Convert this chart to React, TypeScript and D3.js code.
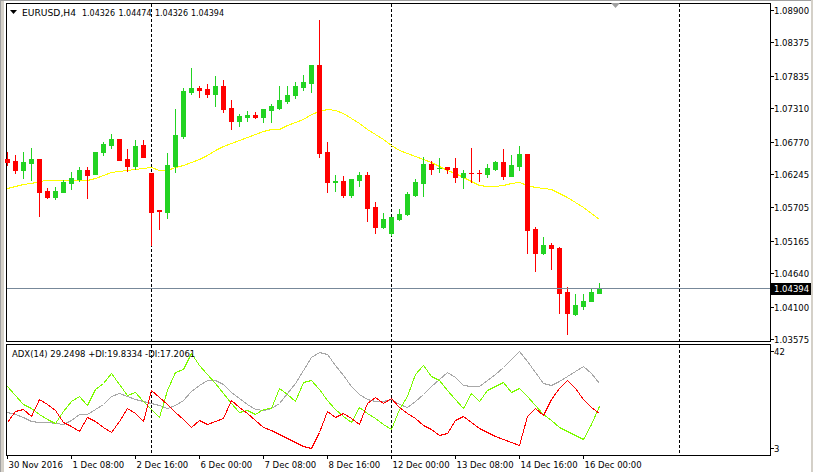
import React from "react";
import * as d3 from "d3";

// ---------- data (EURUSD H4) ----------
const open = [1.06488,1.06461,1.06310,1.06428,1.06488,1.05970,1.05873,1.05959,1.06100,1.06165,
1.06310,1.06245,1.06602,1.06715,1.06812,1.06488,1.06375,1.06715,1.06262,1.05658,
1.05635,1.06375,1.06861,1.07573,1.07637,1.07621,1.07545,1.07670,1.07314,1.07108,
1.07173,1.07200,1.07173,1.07286,1.07314,1.07427,1.07524,1.07654,1.07723,1.08010,
1.06602,1.06121,1.06132,1.05906,1.06148,1.06229,1.05711,1.05383,1.05295,1.05522,
1.05593,1.05906,1.06105,1.06407,1.06335,1.06359,1.06343,1.06202,1.06262,1.06262,
1.06250,1.06326,1.06440,1.06218,1.06380,1.06569,1.05355,1.04959,1.05096,1.05048,
1.04340,1.03979,1.04109,1.04185,1.04326];
const high = [1.06602,1.06553,1.06602,1.06666,1.06488,1.06019,1.06035,1.06148,1.06278,1.06359,
1.06359,1.06602,1.06763,1.06893,1.06812,1.06650,1.06796,1.06796,1.06262,1.05663,
1.06581,1.07298,1.07637,1.07961,1.07670,1.07702,1.07832,1.07767,1.07443,1.07217,
1.07270,1.07249,1.07298,1.07379,1.07670,1.07670,1.07735,1.07848,1.08010,1.08738,
1.06763,1.06229,1.06218,1.06165,1.06283,1.06283,1.05792,1.05609,1.05549,1.05674,
1.05954,1.06165,1.06521,1.06456,1.06504,1.06359,1.06504,1.06310,1.06666,1.06310,
1.06407,1.06456,1.06650,1.06553,1.06699,1.06569,1.05392,1.05231,1.05129,1.05069,
1.04421,1.04303,1.04303,1.04384,1.04474];
const low = [1.06391,1.06267,1.06186,1.06148,1.05566,1.05857,1.05841,1.05954,1.06003,1.06132,
1.05857,1.06245,1.06553,1.06666,1.06477,1.06294,1.06326,1.06521,1.05096,1.05355,
1.05538,1.06283,1.06833,1.07540,1.07497,1.07497,1.07351,1.07254,1.06979,1.07027,
1.07108,1.07157,1.07092,1.07092,1.07298,1.07395,1.07476,1.07605,1.07578,1.06526,
1.05959,1.05970,1.05878,1.05878,1.06056,1.05485,1.05295,1.05367,1.05258,1.05501,
1.05577,1.05889,1.05889,1.06245,1.06278,1.06267,1.06121,1.06024,1.06121,1.06137,
1.06202,1.06315,1.06169,1.06213,1.06315,1.04959,1.04680,1.04956,1.04716,1.03991,
1.03651,1.03963,1.04055,1.04185,1.04326];
const close = [1.06440,1.06310,1.06440,1.06488,1.05959,1.05873,1.05970,1.06116,1.06181,1.06310,
1.06229,1.06602,1.06731,1.06812,1.06477,1.06375,1.06699,1.06521,1.05635,1.05647,
1.06391,1.06877,1.07589,1.07637,1.07605,1.07545,1.07670,1.07302,1.07108,1.07184,
1.07200,1.07173,1.07298,1.07346,1.07443,1.07524,1.07670,1.07735,1.08010,1.06590,
1.06121,1.06132,1.05906,1.06165,1.06229,1.05700,1.05392,1.05512,1.05544,1.05598,
1.05922,1.06111,1.06407,1.06331,1.06343,1.06326,1.06202,1.06262,1.06257,1.06257,
1.06343,1.06440,1.06218,1.06391,1.06569,1.05347,1.04959,1.05096,1.05040,1.04314,
1.03991,1.04125,1.04190,1.04340,1.04394];
const ma = [1.06019,1.06051,1.06076,1.06108,1.06140,1.06144,1.06144,1.06144,1.06144,1.06144,
1.06156,1.06181,1.06229,1.06270,1.06294,1.06310,1.06334,1.06347,1.06359,1.06318,
1.06318,1.06351,1.06391,1.06432,1.06496,1.06553,1.06634,1.06704,1.06755,1.06796,
1.06852,1.06901,1.06941,1.06966,1.06982,1.07039,1.07095,1.07136,1.07209,1.07265,
1.07298,1.07281,1.07228,1.07160,1.07071,1.06982,1.06893,1.06804,1.06723,1.06642,
1.06581,1.06537,1.06496,1.06432,1.06367,1.06310,1.06262,1.06205,1.06140,1.06067,
1.06051,1.06051,1.06067,1.06092,1.06116,1.06067,1.06035,1.06014,1.05995,1.05938,
1.05876,1.05800,1.05716,1.05622,1.05517];
const adx = [17.59,16.67,15.46,13.85,13.57,13.57,13.17,12.45,14.26,16.87,
16.67,18.68,20.69,23.91,25.11,23.91,22.70,21.89,20.97,20.09,
19.08,20.29,22.50,25.92,28.53,30.34,30.54,28.73,25.71,23.10,
20.89,18.48,18.28,18.96,21.09,25.31,29.13,34.36,39.39,41.48,
40.79,36.57,32.35,27.93,24.71,22.70,21.89,21.89,22.90,20.49,
19.68,21.89,24.71,27.93,30.94,33.44,31.55,28.13,28.05,28.05,
30.34,32.95,35.57,38.98,42.20,37.98,33.56,29.13,28.13,29.74,
31.75,33.76,35.97,33.35,29.2498];
const plusDI = [27.93,24.11,20.49,19.08,16.67,14.86,13.17,17.87,21.89,23.91,
20.29,26.92,29.13,33.15,28.93,24.31,25.39,21.89,18.48,15.46,
26.52,33.44,34.76,41.0,36.37,32.95,29.13,25.11,21.29,17.67,
18.36,16.47,18.88,18.96,27.12,24.91,21.89,29.53,30.54,26.72,
22.30,18.68,16.06,13.65,19.68,17.27,15.06,12.65,10.44,18.68,
23.91,32.95,36.57,31.95,30.34,26.32,22.70,19.08,25.11,21.89,
26.32,27.93,29.66,25.51,27.32,23.91,20.29,16.67,14.26,11.44,
9.83,8.22,6.62,12.65,19.8334];
const minusDI = [13.57,17.99,18.56,16.06,22.90,20.69,18.28,13.57,11.84,10.03,
15.66,13.85,11.64,9.63,14.05,19.08,17.07,14.05,26.12,23.50,
20.89,17.67,14.46,11.44,14.26,12.45,13.85,15.06,22.10,19.48,
17.07,14.26,11.64,10.23,8.75,7.22,5.41,4.00,3.00,9.60,
17.87,15.34,17.07,15.06,12.85,21.09,23.70,21.09,23.30,19.68,
17.07,15.06,12.24,10.44,8.42,8.83,14.26,15.86,13.45,11.04,
9.63,8.02,6.62,5.41,4.20,15.86,18.96,16.27,22.70,27.32,
30.54,27.12,22.90,19.48,17.2061];

const timeLabels = ["30 Nov 2016","1 Dec 08:00","2 Dec 16:00","6 Dec 00:00","7 Dec 08:00","8 Dec 16:00","12 Dec 00:00","13 Dec 08:00","14 Dec 16:00","16 Dec 00:00"];
const timeLabelBars = [0,8,16,24,32,40,48,56,64,72];
const separatorBars = [18,48,84];
const priceTicks = ["1.08900","1.08375","1.07835","1.07310","1.06770","1.06245","1.05705","1.05165","1.04640","1.04100","1.03575"];
const indTicks = ["42","3"];
const symbolInfo = "EURUSD,H4";
const headerValues = ["1.04326","1.04474","1.04326","1.04394"];
const adxLabel = "ADX(14) 29.2498 +DI:19.8334 -DI:17.2061";
const lastBid = 1.04394;

// ---------- layout ----------
const FONT = "DejaVu Sans";
const FS = 8.5;
const L = 6, R = 770, T1 = 3, B1 = 341, T2 = 344, B2 = 455;
const BULL = "#22d322";
const BEAR = "#ff0000";

export default function App() {
  const x = d3.scaleLinear().domain([0, 74]).range([7, 599]);
  const y = d3.scaleLinear().domain([1.03575, 1.089]).range([339, 10]);
  const yi = d3.scaleLinear().domain([3, 42]).range([448, 351]);

  const idx = d3.range(open.length);
  const maLine = d3.line<number>().x((i) => x(i) + 0.5).y((i) => Math.round(y(ma[i])) + 0.5);
  const indLine = (arr: number[]) =>
    d3.line<number>().x((i) => x(i) + 0.5).y((i) => Math.round(yi(arr[i])) + 0.5)(idx) || "";

  const headerX = [82, 118.5, 155, 191];

  return (
    <svg
      width={813}
      height={472}
      style={{ position: "fixed", left: 0, top: 0, display: "block", background: "#ffffff" }}
      fontFamily={FONT}
      fontSize={FS}
    >
      {/* window frame */}
      <rect x={0} y={0} width={813} height={472} fill="#ffffff" />
      <rect x={0} y={0} width={1} height={472} fill="#a0a0a0" />
      <rect x={1} y={0} width={3} height={472} fill="#d4d0c8" />
      <rect x={811} y={0} width={2} height={472} fill="#d4d0c8" />
      <rect x={0} y={0} width={811} height={1} fill="#a0a0a0" />

      {/* panels */}
      <rect x={L + 0.5} y={T1 + 0.5} width={R - L} height={B1 - T1} fill="#fff" stroke="#000" strokeWidth={1} shapeRendering="crispEdges" />
      <rect x={L + 0.5} y={T2 + 0.5} width={R - L} height={B2 - T2} fill="#fff" stroke="#000" strokeWidth={1} shapeRendering="crispEdges" />

      {/* period separators */}
      {separatorBars.map((b) => (
        <g key={b} shapeRendering="crispEdges">
          <line x1={x(b) + 0.5} x2={x(b) + 0.5} y1={T1 + 1} y2={B1} stroke="#000" strokeDasharray="3,2" />
          <line x1={x(b) + 0.5} x2={x(b) + 0.5} y1={T2 + 1} y2={B2} stroke="#000" strokeDasharray="3,2" />
        </g>
      ))}

      {/* moving average */}
      <path d={maLine(idx) || ""} fill="none" stroke="#ffff00" strokeWidth={1} shapeRendering="crispEdges" />

      {/* candles */}
      <g shapeRendering="crispEdges">
        {idx.map((i) => {
          const up = close[i] >= open[i];
          const col = up ? BULL : BEAR;
          const cx = x(i);
          const yH = Math.round(y(high[i]));
          const yL = Math.round(y(low[i]));
          const yT = Math.round(y(Math.max(open[i], close[i])));
          const yB = Math.round(y(Math.min(open[i], close[i])));
          return (
            <g key={i}>
              <rect x={cx} y={yH} width={1} height={Math.max(1, yL - yH + 1)} fill={col} />
              <rect x={cx - 2} y={yT} width={5} height={Math.max(1, yB - yT + 1)} fill={col} />
            </g>
          );
        })}
      </g>

      {/* bid line */}
      <line x1={L + 1} x2={R} y1={Math.round(y(lastBid)) + 0.5} y2={Math.round(y(lastBid)) + 0.5} stroke="#778899" shapeRendering="crispEdges" />

      {/* ADX lines */}
      <path d={indLine(adx)} fill="none" stroke="#a8a8a8" strokeWidth={1} shapeRendering="crispEdges" />
      <path d={indLine(plusDI)} fill="none" stroke="#7cfc00" strokeWidth={1} shapeRendering="crispEdges" />
      <path d={indLine(minusDI)} fill="none" stroke="#ff0000" strokeWidth={1} shapeRendering="crispEdges" />

      {/* headers */}
      <polygon points="10,10 17,10 13.5,14" fill="#000" />
      <text x={22} y={15.5} fill="#000" textLength={54} lengthAdjust="spacingAndGlyphs">{symbolInfo}</text>
      {headerValues.map((v, k) => (
        <text key={k} x={headerX[k]} y={15.5} fill="#000" textLength={33} lengthAdjust="spacingAndGlyphs">{v}</text>
      ))}
      <text x={12} y={356.5} fill="#000">{adxLabel}</text>
      <polygon points="611,3 620,3 615.5,8" fill="#a0a0a0" />

      {/* price axis */}
      <g>
        {priceTicks.map((t) => {
          const ty = Math.round(y(+t));
          return (
            <g key={t}>
              <line x1={R + 1} x2={R + 4} y1={ty + 0.5} y2={ty + 0.5} stroke="#000" shapeRendering="crispEdges" />
              <text x={774} y={ty + 3.5} fill="#000">{t}</text>
            </g>
          );
        })}
        <rect x={771} y={283} width={40} height={12} fill="#000" />
        <text x={774} y={Math.round(y(lastBid)) + 3.5} fill="#fff">{lastBid.toFixed(5)}</text>
      </g>

      {/* indicator axis */}
      {indTicks.map((t) => {
        const ty = Math.round(yi(+t));
        return (
          <g key={t}>
            <line x1={R + 1} x2={R + 4} y1={ty + 0.5} y2={ty + 0.5} stroke="#000" shapeRendering="crispEdges" />
            <text x={774} y={ty + 3.5} fill="#000">{t}</text>
          </g>
        );
      })}

      {/* time axis */}
      {timeLabels.map((t, k) => {
        const tx = x(timeLabelBars[k]);
        return (
          <g key={t}>
            <line x1={tx + 0.5} x2={tx + 0.5} y1={B2 + 1} y2={B2 + 4} stroke="#000" shapeRendering="crispEdges" />
            <text x={tx + 1.5} y={468} fill="#000">{t}</text>
          </g>
        );
      })}
    </svg>
  );
}
